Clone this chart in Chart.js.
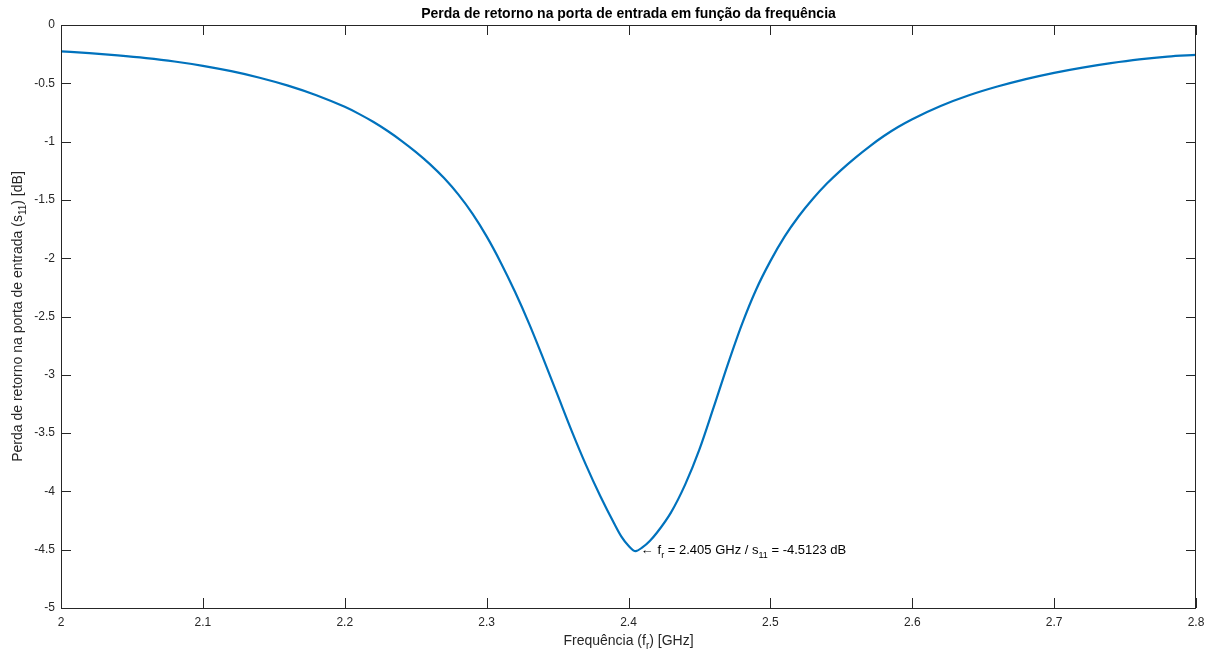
<!DOCTYPE html>
<html>
<head>
<meta charset="utf-8">
<script src="https://cdn.jsdelivr.net/npm/chart.js@4"></script>
<style>
  body { margin: 0; background: #fff; }
  canvas { display: block; }
</style>
</head>
<body>
<canvas id="s11_chart" width="1215" height="653"></canvas>
<script>
// frequency in GHz, return loss in dB
var freq = [2.00, 2.02, 2.04, 2.06, 2.08, 2.10, 2.12, 2.14, 2.16, 2.18,
            2.20, 2.21, 2.22, 2.23, 2.24, 2.25, 2.26, 2.27, 2.28, 2.29,
            2.30, 2.31, 2.32, 2.33, 2.34, 2.35, 2.36, 2.37, 2.38, 2.39,
            2.395, 2.40, 2.405, 2.41, 2.415, 2.42, 2.43, 2.44, 2.45, 2.46,
            2.47, 2.48, 2.49, 2.50, 2.51, 2.52, 2.53, 2.54, 2.55, 2.56,
            2.57, 2.58, 2.59, 2.60, 2.62, 2.64, 2.66, 2.68, 2.70, 2.72,
            2.74, 2.76, 2.78, 2.80];
var s11 = [-0.226, -0.242, -0.261, -0.284, -0.313, -0.350, -0.396, -0.452, -0.520, -0.602,
           -0.702, -0.762, -0.830, -0.907, -0.993, -1.088, -1.193, -1.313, -1.453, -1.618,
           -1.813, -2.038, -2.288, -2.563, -2.863, -3.173, -3.483, -3.773, -4.038, -4.278,
           -4.388, -4.466, -4.5123, -4.478, -4.425, -4.355, -4.180, -3.940, -3.640, -3.280,
           -2.910, -2.565, -2.268, -2.025, -1.815, -1.640, -1.490, -1.358, -1.242, -1.137,
           -1.040, -0.952, -0.875, -0.808, -0.695, -0.603, -0.528, -0.464, -0.410, -0.365,
           -0.327, -0.295, -0.271, -0.257];

var titleText = 'Perda de retorno na porta de entrada em função da frequência';
var xLabel = [['Frequência (f', 0], ['r', 1], [') [GHz]', 0]];
var yLabel = [['Perda de retorno na porta de entrada (s', 0], ['11', 1], [') [dB]', 0]];
var marker = {f: 2.405, v: -4.5123};
var markerText = [['f', 0], ['r', 1], [' = 2.405 GHz / s', 0], ['11', 1], [' = -4.5123 dB', 0]];

var points = freq.map(function(f, i) { return {x: f, y: s11[i]}; });

// text with subscripts, starting at x (left), baseline y
function richWidth(ctx, parts, size) {
  var w = 0;
  parts.forEach(function(p) {
    ctx.font = (p[1] ? Math.round(size * 0.7) : size) + 'px Arial, "Liberation Sans"';
    w += ctx.measureText(p[0]).width;
  });
  return w;
}
function drawRich(ctx, parts, x, y, size) {
  parts.forEach(function(p) {
    ctx.font = (p[1] ? Math.round(size * 0.7) : size) + 'px Arial, "Liberation Sans"';
    ctx.fillText(p[0], x, p[1] ? y + 4 : y);
    x += ctx.measureText(p[0]).width;
  });
}

var matlabLook = {
  id: 'matlabLook',
  afterDraw: function(chart) {
    var ctx = chart.ctx, a = chart.chartArea;
    var xs = chart.scales.x, ys = chart.scales.y;
    ctx.save();
    ctx.strokeStyle = '#262626';
    ctx.lineWidth = 1;
    ctx.strokeRect(a.left + 0.5, a.top + 0.5, a.right - a.left - 1, a.bottom - a.top);
    ctx.beginPath();
    xs.ticks.forEach(function(t) {
      var px = Math.round(xs.getPixelForValue(t.value)) + 0.5;
      ctx.moveTo(px, a.bottom); ctx.lineTo(px, a.bottom - 10);
      ctx.moveTo(px, a.top); ctx.lineTo(px, a.top + 10);
    });
    ys.ticks.forEach(function(t) {
      var py = Math.round(ys.getPixelForValue(t.value)) + 0.5;
      ctx.moveTo(a.left, py); ctx.lineTo(a.left + 10, py);
      ctx.moveTo(a.right, py); ctx.lineTo(a.right - 10, py);
    });
    ctx.stroke();

    // title
    ctx.fillStyle = '#000';
    ctx.textAlign = 'center';
    ctx.textBaseline = 'alphabetic';
    ctx.font = 'bold 14px Arial, "Liberation Sans"';
    ctx.fillText(titleText, (a.left + a.right) / 2, 18);

    // axis labels
    ctx.textAlign = 'left';
    ctx.fillStyle = '#262626';
    var w = richWidth(ctx, xLabel, 14);
    drawRich(ctx, xLabel, (a.left + a.right) / 2 - w / 2, 645, 14);

    ctx.save();
    ctx.translate(22, (a.top + a.bottom) / 2);
    ctx.rotate(-Math.PI / 2);
    w = richWidth(ctx, yLabel, 14);
    drawRich(ctx, yLabel, -w / 2, 0, 14);
    ctx.restore();

    // resonance annotation
    var mx = xs.getPixelForValue(marker.f), my = ys.getPixelForValue(marker.v);
    ctx.fillStyle = '#000';
    ctx.font = '13px Arial, "Liberation Sans"';
    ctx.fillText('\u2190', mx + 5, my + 3);
    drawRich(ctx, markerText, mx + 22, my + 3, 13);
    ctx.restore();
  }
};

var s11_chart = new Chart(document.getElementById('s11_chart'), {
  type: 'line',
  data: {
    datasets: [{
      data: points,
      borderColor: '#0072BD',
      borderWidth: 2.2,
      pointRadius: 0,
      cubicInterpolationMode: 'monotone',
      fill: false
    }]
  },
  options: {
    responsive: false,
    animation: false,
    layout: { padding: { top: 25, right: 19, left: 0, bottom: 0 } },
    plugins: { legend: { display: false }, title: { display: false }, tooltip: { enabled: false } },
    scales: {
      x: {
        type: 'linear', min: 2, max: 2.8,
        grid: { display: false, drawTicks: false },
        border: { display: false },
        ticks: {
          stepSize: 0.1, padding: 7, color: '#262626',
          font: { family: 'Arial, "Liberation Sans"', size: 12 },
          maxRotation: 0,
          callback: function(v) { return String(+v.toFixed(2)); }
        },
        afterFit: function(scale) { scale.height = 45; }
      },
      y: {
        type: 'linear', min: -5, max: 0,
        grid: { display: false, drawTicks: false },
        border: { display: false },
        ticks: {
          stepSize: 0.5, padding: 6, color: '#262626',
          font: { family: 'Arial, "Liberation Sans"', size: 12 },
          callback: function(v) { return String(+v.toFixed(2)); }
        },
        afterFit: function(scale) { scale.width = 61; }
      }
    }
  },
  plugins: [matlabLook]
});
</script>
</body>
</html>
